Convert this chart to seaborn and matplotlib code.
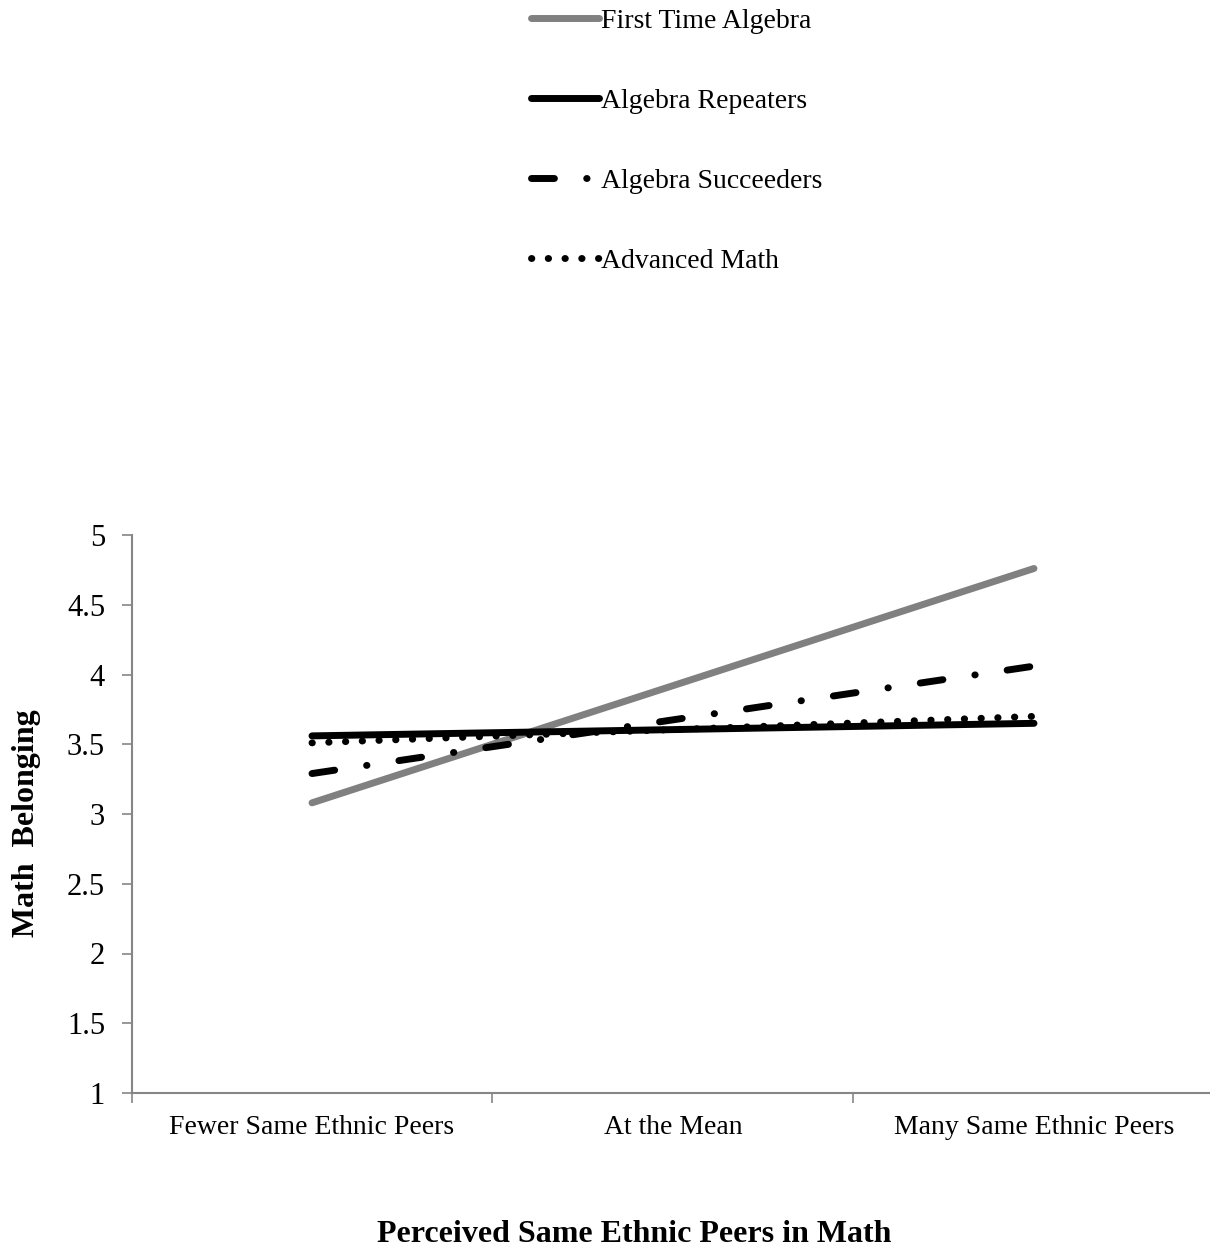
import matplotlib
matplotlib.use("Agg")
import matplotlib.pyplot as plt
from matplotlib.lines import Line2D
import seaborn as sns
import pandas as pd

categories = ["Fewer Same Ethnic Peers", "At the Mean", "Many Same Ethnic Peers"]
series_names = ["First Time Algebra", "Algebra Repeaters", "Algebra Succeeders", "Advanced Math"]
first_time = [3.08, 3.92, 4.76]
repeaters = [3.56, 3.605, 3.65]
succeeders = [3.29, 3.675, 4.06]
advanced = [3.51, 3.605, 3.70]
y_ticks = [1, 1.5, 2, 2.5, 3, 3.5, 4, 4.5, 5]
y_tick_labels = ["1", "1.5", "2", "2.5", "3", "3.5", "4", "4.5", "5"]

sns.set_theme(style="white")
plt.rcParams["font.family"] = ["Liberation Serif", "DejaVu Serif"]
plt.rcParams["text.color"] = "black"
plt.rcParams["xtick.labelcolor"] = "black"
plt.rcParams["ytick.labelcolor"] = "black"

values = [first_time, repeaters, succeeders, advanced]
df = pd.DataFrame({
    "x": [i for _ in series_names for i in range(len(categories))],
    "y": [v for vals in values for v in vals],
    "series": [s for s in series_names for _ in categories],
})

W, H = 1210, 1253
fig = plt.figure(figsize=(W / 100, H / 100), dpi=100)
left_px, right_px = 131.5, 1214.5
top_px, bot_px = 535, 1093
ax = fig.add_axes([left_px / W, 1 - bot_px / H, (right_px - left_px) / W, (bot_px - top_px) / H])

lw = 5.0
styles = {
    "First Time Algebra": dict(color="#808080", linestyle="-"),
    "Algebra Repeaters": dict(color="black", linestyle="-"),
    "Algebra Succeeders": dict(color="black", linestyle=(0, (3.3, 4.65, 0.05, 4.65))),
    "Advanced Math": dict(color="black", linestyle=(0, (0.05, 2.36))),
}
order = ["First Time Algebra", "Algebra Succeeders", "Advanced Math", "Algebra Repeaters"]
for name in order:
    sub = df[df["series"] == name]
    sns.lineplot(data=sub, x="x", y="y", ax=ax, lw=lw, legend=False,
                 solid_capstyle="round", dash_capstyle="round", **styles[name])

ax.set_xlim(-0.5, 2.5)
ax.set_ylim(1, 5)
ax.set_yticks(y_ticks)
ax.set_yticklabels(y_tick_labels, fontsize=22, color="black")
ax.set_xticks(range(len(categories)))
ax.set_xticklabels(categories, fontsize=20, color="black")
ax.set_xticks([-0.5, 0.5, 1.5, 2.5], minor=True)
ax.tick_params(axis="x", which="major", length=0, pad=16)
ax.tick_params(axis="x", which="minor", length=7, width=1.2, color="#868686", direction="out", bottom=True)
ax.tick_params(axis="y", length=7, width=1.2, color="#868686", direction="out", left=True, pad=12)
for s in ["top", "right"]:
    ax.spines[s].set_visible(False)
for s in ["left", "bottom"]:
    ax.spines[s].set_color("#868686")
    ax.spines[s].set_linewidth(1.5)

ax.set_xlabel("")
ax.set_ylabel("")
fig.text(27 / W, 1 - 823 / H, "Math  Belonging", rotation=90, ha="center", va="center",
         fontsize=23, fontweight="bold", color="black")
fig.text(634 / W, 1 - 1235 / H, "Perceived Same Ethnic Peers in Math", ha="center", va="center",
         fontsize=23, fontweight="bold", color="black")

handles = [Line2D([0], [0], lw=lw, solid_capstyle="round", dash_capstyle="round", **styles[n])
           for n in series_names]
leg = fig.legend(handles, series_names, loc="upper left", bbox_to_anchor=(528 / W, 1 - 6 / H),
                 frameon=False, fontsize=20, handlelength=2.45, handletextpad=0.08,
                 labelspacing=1.96, borderpad=0.1, borderaxespad=0)
for t in leg.get_texts():
    t.set_color("black")

fig.savefig("out.png", dpi=100)
